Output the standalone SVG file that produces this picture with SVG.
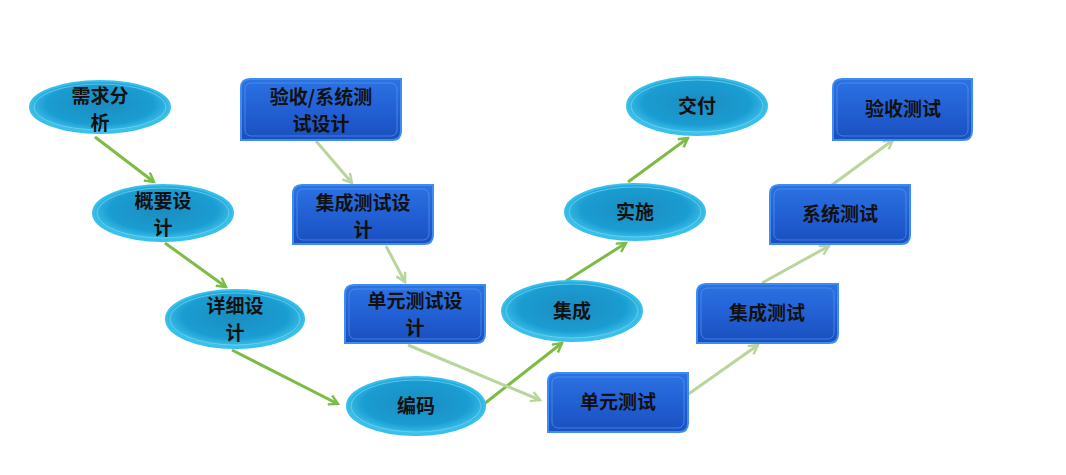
<svg xmlns="http://www.w3.org/2000/svg" width="1066" height="475" viewBox="0 0 1066 475">
<defs>
<radialGradient id="eg" cx="50%" cy="45%" r="55%">
<stop offset="0" stop-color="#1b8cc0"/>
<stop offset="0.7" stop-color="#1a9dd2"/>
<stop offset="1" stop-color="#46c8ee"/>
</radialGradient>
<linearGradient id="bg" x1="0" y1="0" x2="0" y2="1">
<stop offset="0" stop-color="#2c72e2"/>
<stop offset="0.5" stop-color="#2260d4"/>
<stop offset="1" stop-color="#1a4fbe"/>
</linearGradient>
<marker id="ad" viewBox="0 0 12 12" refX="10" refY="6" markerWidth="12" markerHeight="12" markerUnits="userSpaceOnUse" orient="auto">
<path d="M1,1 L10,6 L1,11" fill="none" stroke="#7cbc45" stroke-width="2.4"/>
</marker>
<marker id="ap" viewBox="0 0 12 12" refX="10" refY="6" markerWidth="12" markerHeight="12" markerUnits="userSpaceOnUse" orient="auto">
<path d="M1,1 L10,6 L1,11" fill="none" stroke="#bad59c" stroke-width="2.4"/>
</marker>
</defs>
<style>
.el{fill:url(#eg);stroke:#36c0ec;stroke-width:2}
.eli{fill:none;stroke:#7fe0f8;stroke-width:1;opacity:0.6}
.bx{fill:url(#bg);stroke:#3e8cf0;stroke-width:2}
.bxi{fill:none;stroke:#5aa0f5;stroke-width:1;opacity:0.6}
.t{font-family:"Noto Sans CJK SC","Noto Sans",sans-serif;font-size:19px;font-weight:bold;fill:#111;text-anchor:middle}
.cd{stroke:#7cbc45;stroke-width:3;fill:none;marker-end:url(#ad)}
.cp{stroke:#bad59c;stroke-width:3;fill:none;marker-end:url(#ap)}
</style>
<rect width="1066" height="475" fill="#ffffff"/>
<g id="connectors">
<line class="cd" x1="95" y1="137" x2="154" y2="182"/>
<line class="cd" x1="165" y1="243" x2="226" y2="287"/>
<line class="cd" x1="232" y1="350" x2="338" y2="404"/>
<line class="cd" x1="484" y1="404" x2="562" y2="343"/>
<line class="cd" x1="566" y1="281" x2="626" y2="243"/>
<line class="cd" x1="628" y1="182" x2="688" y2="138"/>
<line class="cp" x1="316" y1="141" x2="352" y2="183"/>
<line class="cp" x1="386" y1="246" x2="405" y2="282"/>
<line class="cp" x1="408" y1="345" x2="540" y2="400"/>
<line class="cp" x1="680" y1="400" x2="758" y2="345"/>
<line class="cp" x1="762" y1="283" x2="829" y2="246"/>
<line class="cp" x1="832" y1="185" x2="893" y2="140"/>
</g>
<g id="n-xqfx">
<ellipse class="el" cx="100" cy="107" rx="70" ry="26"/>
<ellipse class="eli" cx="100" cy="107" rx="66" ry="23"/>
<text class="t" x="100" y="103">需求分</text>
<text class="t" x="100" y="130">析</text>
</g>
<g id="n-gysj">
<ellipse class="el" cx="163" cy="213" rx="70" ry="28"/>
<ellipse class="eli" cx="163" cy="213" rx="66" ry="25"/>
<text class="t" x="163" y="208">概要设</text>
<text class="t" x="163" y="235">计</text>
</g>
<g id="n-xxsj">
<ellipse class="el" cx="235" cy="319" rx="69" ry="29"/>
<ellipse class="eli" cx="235" cy="319" rx="65" ry="26"/>
<text class="t" x="235" y="313">详细设</text>
<text class="t" x="235" y="340">计</text>
</g>
<g id="n-bm">
<ellipse class="el" cx="416" cy="406" rx="69" ry="29"/>
<ellipse class="eli" cx="416" cy="406" rx="65" ry="26"/>
<text class="t" x="416" y="413">编码</text>
</g>
<g id="n-jc">
<ellipse class="el" cx="572" cy="311" rx="70" ry="30"/>
<ellipse class="eli" cx="572" cy="311" rx="66" ry="27"/>
<text class="t" x="572" y="318">集成</text>
</g>
<g id="n-ss">
<ellipse class="el" cx="635" cy="212" rx="70" ry="28"/>
<ellipse class="eli" cx="635" cy="212" rx="66" ry="25"/>
<text class="t" x="635" y="219">实施</text>
</g>
<g id="n-jf">
<ellipse class="el" cx="697" cy="106" rx="70" ry="29"/>
<ellipse class="eli" cx="697" cy="106" rx="66" ry="26"/>
<text class="t" x="697" y="113">交付</text>
</g>
<g id="n-ysxtcssj">
<path class="bx" d="M250,79 H401 V131 Q401,140 392,140 H241 V88 Q241,79 250,79 Z"/>
<rect class="bxi" x="245" y="83" width="152" height="53" rx="6"/>
<text class="t" x="321" y="104">验收/系统测</text>
<text class="t" x="321" y="131">试设计</text>
</g>
<g id="n-jccssj">
<path class="bx" d="M302,185 H433 V235 Q433,244 424,244 H293 V194 Q293,185 302,185 Z"/>
<rect class="bxi" x="297" y="189" width="132" height="51" rx="6"/>
<text class="t" x="363" y="210">集成测试设</text>
<text class="t" x="363" y="237">计</text>
</g>
<g id="n-dycssj">
<path class="bx" d="M354,285 H485 V334 Q485,343 476,343 H345 V294 Q345,285 354,285 Z"/>
<rect class="bxi" x="349" y="289" width="132" height="50" rx="6"/>
<text class="t" x="415" y="308">单元测试设</text>
<text class="t" x="415" y="335">计</text>
</g>
<g id="n-dycs">
<path class="bx" d="M557,373 H688 V423 Q688,432 679,432 H548 V382 Q548,373 557,373 Z"/>
<rect class="bxi" x="552" y="377" width="132" height="51" rx="6"/>
<text class="t" x="618" y="409">单元测试</text>
</g>
<g id="n-jccs">
<path class="bx" d="M706,284 H838 V334 Q838,343 829,343 H697 V293 Q697,284 706,284 Z"/>
<rect class="bxi" x="701" y="288" width="133" height="51" rx="6"/>
<text class="t" x="767" y="320">集成测试</text>
</g>
<g id="n-xtcs">
<path class="bx" d="M779,185 H910 V235 Q910,244 901,244 H770 V194 Q770,185 779,185 Z"/>
<rect class="bxi" x="774" y="189" width="132" height="51" rx="6"/>
<text class="t" x="840" y="221">系统测试</text>
</g>
<g id="n-yscs">
<path class="bx" d="M842,79 H972 V131 Q972,140 963,140 H833 V88 Q833,79 842,79 Z"/>
<rect class="bxi" x="837" y="83" width="131" height="53" rx="6"/>
<text class="t" x="903" y="116">验收测试</text>
</g>
</svg>
